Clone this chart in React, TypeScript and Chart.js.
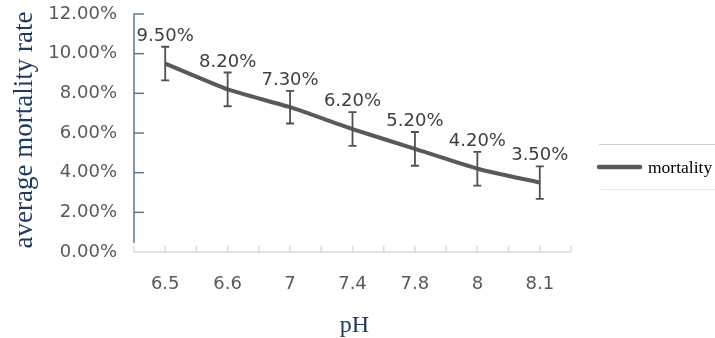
import React, { useEffect, useRef } from "react";
import { Chart, registerables } from "chart.js";

Chart.register(...registerables);

const categories = ["6.5", "6.6", "7", "7.4", "7.8", "8", "8.1"];
const mortality = [9.5, 8.2, 7.3, 6.2, 5.2, 4.2, 3.5];
const errors = [0.85, 0.85, 0.82, 0.85, 0.85, 0.85, 0.82];
const yTicks = [0, 2, 4, 6, 8, 10, 12];
const seriesName = "mortality";
const xTitle = "pH";
const yTitle = "average mortality rate";

const NUM_FONT = '18px "DejaVu Sans"';

const decorPlugin = {
  id: "decor",
  beforeDatasetsDraw(chart: any) {
    const { ctx, chartArea, scales } = chart;
    const y = scales.y;
    const left = chartArea.left;
    const right = chartArea.right;
    const bottom = y.getPixelForValue(0);
    ctx.save();
    // x axis line
    ctx.strokeStyle = "#d9d9d9";
    ctx.lineWidth = 1.5;
    ctx.beginPath();
    ctx.moveTo(left, bottom);
    ctx.lineTo(right, bottom);
    ctx.stroke();
    // x ticks at every half category
    const n = categories.length * 2;
    for (let i = 0; i <= n; i++) {
      const px = left + ((right - left) * i) / n;
      ctx.beginPath();
      ctx.moveTo(px, bottom);
      ctx.lineTo(px, bottom - 6);
      ctx.stroke();
    }
    // y axis line
    ctx.strokeStyle = "#5a7b95";
    ctx.lineWidth = 1.5;
    ctx.beginPath();
    ctx.moveTo(left, y.getPixelForValue(12) - 0.5);
    ctx.lineTo(left, bottom - 9);
    ctx.stroke();
    // inner y ticks
    yTicks.forEach((v) => {
      if (v === 0) return;
      const py = y.getPixelForValue(v);
      ctx.beginPath();
      ctx.moveTo(left, py);
      ctx.lineTo(left + 10, py);
      ctx.stroke();
    });
    ctx.restore();
  },
  afterDatasetsDraw(chart: any) {
    const { ctx, chartArea, scales } = chart;
    const x = scales.x;
    const y = scales.y;
    ctx.save();
    // error bars
    ctx.strokeStyle = "#505050";
    ctx.lineWidth = 1.8;
    mortality.forEach((v, i) => {
      const px = x.getPixelForValue(i);
      const top = y.getPixelForValue(v + errors[i]);
      const bot = y.getPixelForValue(v - errors[i]);
      ctx.beginPath();
      ctx.moveTo(px, top);
      ctx.lineTo(px, bot);
      ctx.moveTo(px - 4, top);
      ctx.lineTo(px + 4, top);
      ctx.moveTo(px - 4, bot);
      ctx.lineTo(px + 4, bot);
      ctx.stroke();
    });
    // data labels
    ctx.fillStyle = "#404040";
    ctx.font = NUM_FONT;
    ctx.textAlign = "center";
    ctx.textBaseline = "alphabetic";
    mortality.forEach((v, i) => {
      const px = x.getPixelForValue(i);
      const top = y.getPixelForValue(v + errors[i]);
      ctx.fillText(v.toFixed(2) + "%", px, top - 6);
    });
    // axis titles
    ctx.fillStyle = "#1f3a60";
    ctx.font = '24px "Liberation Serif"';
    ctx.textAlign = "center";
    ctx.fillText(xTitle, (chartArea.left + chartArea.right) / 2 + 2, 332);
    ctx.save();
    ctx.translate(32, 130);
    ctx.rotate(-Math.PI / 2);
    ctx.font = '27px "Liberation Serif"';
    ctx.fillText(yTitle, 0, 0);
    ctx.restore();
    // legend
    ctx.strokeStyle = "#d0d0d0";
    ctx.lineWidth = 1;
    ctx.beginPath();
    ctx.moveTo(599, 144.5);
    ctx.lineTo(715, 144.5);
    ctx.stroke();
    ctx.strokeStyle = "#e6e6e6";
    ctx.beginPath();
    ctx.moveTo(601, 189.5);
    ctx.lineTo(715, 189.5);
    ctx.stroke();
    ctx.strokeStyle = "#595959";
    ctx.lineWidth = 4.5;
    ctx.lineCap = "round";
    ctx.beginPath();
    ctx.moveTo(599, 167);
    ctx.lineTo(640, 167);
    ctx.stroke();
    ctx.fillStyle = "#000000";
    ctx.font = '17.5px "Liberation Serif"';
    ctx.textAlign = "left";
    ctx.fillText(seriesName, 648, 173);
    ctx.restore();
  },
};

export default function App() {
  const ref = useRef<HTMLCanvasElement>(null);
  useEffect(() => {
    document.body.style.margin = "0";
    const canvas = ref.current;
    if (!canvas) return;
    const chart = new Chart(canvas, {
      type: "line",
      data: {
        labels: categories,
        datasets: [
          {
            label: seriesName,
            data: mortality,
            borderColor: "#595959",
            backgroundColor: "#595959",
            borderWidth: 4,
            pointRadius: 0,
            tension: 0.15,
          },
        ],
      },
      options: {
        animation: false,
        responsive: false,
        devicePixelRatio: 1,
        layout: { padding: { left: 0, right: 144, top: 14, bottom: 0 } },
        plugins: {
          legend: { display: false },
          tooltip: { enabled: false },
        },
        scales: {
          x: {
            type: "category",
            offset: true,
            grid: {
              display: true,
              drawOnChartArea: false,
              drawTicks: true,
              tickLength: 22,
              color: "rgba(0,0,0,0)",
            },
            border: { display: false },
            ticks: {
              font: { family: "DejaVu Sans", size: 18 },
              color: "#595959",
              padding: 0,
              maxRotation: 0,
              autoSkip: false,
            },
            afterFit(scale: any) {
              scale.height = 86;
            },
          },
          y: {
            min: 0,
            max: 12,
            grid: {
              display: true,
              drawOnChartArea: false,
              drawTicks: true,
              tickLength: 17,
              color: "rgba(0,0,0,0)",
            },
            border: { display: false },
            ticks: {
              stepSize: 2,
              font: { family: "DejaVu Sans", size: 18 },
              color: "#595959",
              padding: 0,
              callback: (v: any) => Number(v).toFixed(2) + "%",
            },
            afterFit(scale: any) {
              scale.width = 134;
            },
          },
        },
      },
      plugins: [decorPlugin],
    });
    return () => chart.destroy();
  }, []);
  return (
    <div style={{ width: 715, height: 338, background: "#ffffff" }}>
      <canvas ref={ref} width={715} height={338} style={{ display: "block" }} />
    </div>
  );
}
